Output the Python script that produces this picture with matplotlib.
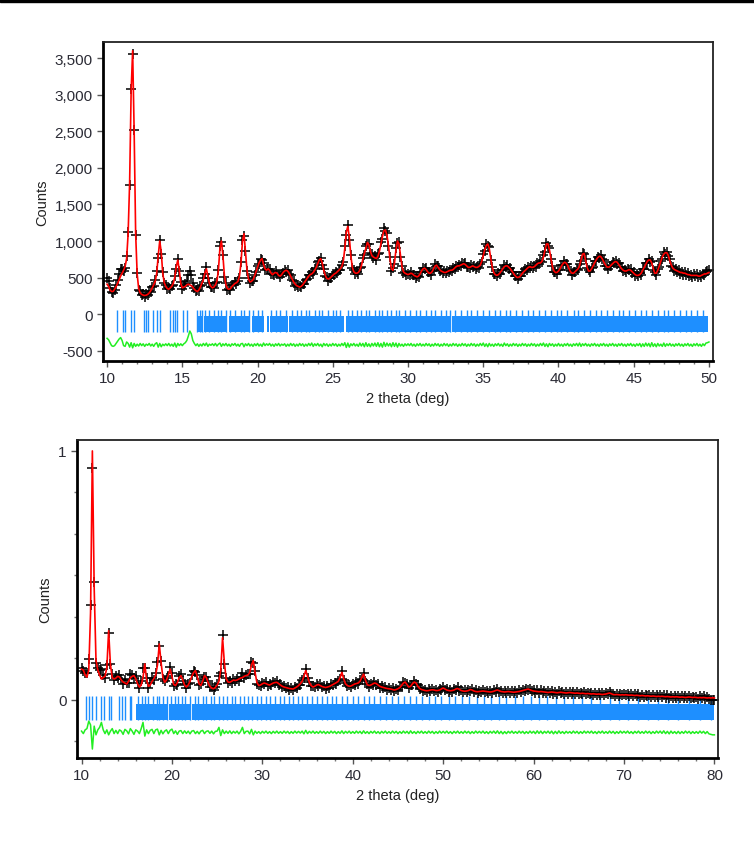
import numpy as np
import matplotlib
matplotlib.use("Agg")
import matplotlib.pyplot as plt
from matplotlib.ticker import MultipleLocator, FuncFormatter
from matplotlib.patches import Rectangle

plt.rcParams['font.family'] = ['Liberation Sans', 'DejaVu Sans']
plt.rcParams['axes.unicode_minus'] = False

# ---- top pattern: 2theta 10.0 .. 50.0, step 0.1 ----
calc_top = [
    410, 380, 330, 310, 310, 340, 380, 420, 470, 520,
    560, 600, 650, 760, 1100, 1800, 3050, 3600, 2500, 1100,
    550, 350, 290, 270, 260, 255, 260, 270, 290, 320,
    360, 400, 450, 560, 800, 1000, 850, 560, 430, 380,
    350, 340, 360, 380, 420, 500, 650, 740, 600, 420,
    360, 370, 380, 400, 410, 400, 390, 370, 340, 320,
    310, 330, 370, 420, 470, 560, 620, 520, 420, 380,
    360, 370, 400, 450, 600, 900, 1000, 800, 520, 400,
    350, 340, 350, 380, 400, 420, 430, 450, 520, 700,
    1000, 1100, 850, 600, 480, 440, 450, 470, 520, 580,
    640, 700, 740, 760, 680, 620, 600, 620, 600, 560,
    540, 560, 570, 560, 530, 520, 540, 570, 590, 600,
    590, 560, 520, 480, 440, 410, 390, 380, 370, 380,
    400, 430, 460, 490, 520, 540, 550, 570, 600, 640,
    690, 740, 760, 700, 600, 530, 490, 480, 490, 510,
    530, 550, 560, 580, 600, 620, 650, 720, 900, 1120,
    1200, 1050, 800, 640, 580, 560, 560, 570, 600, 660,
    750, 830, 900, 980, 950, 860, 800, 780, 770, 760,
    790, 860, 960, 1060, 1140, 1150, 1080, 940, 760, 620,
    600, 700, 880, 1000, 960, 800, 650, 580, 560, 550,
    540, 550, 560, 550, 530, 520, 510, 520, 550, 590,
    620, 630, 610, 580, 560, 560, 580, 620, 660, 670,
    640, 610, 590, 580, 570, 570, 580, 590, 600, 600,
    610, 630, 650, 660, 660, 670, 680, 690, 680, 660,
    640, 640, 650, 660, 650, 640, 640, 650, 670, 720,
    800, 880, 940, 960, 900, 760, 640, 570, 540, 530,
    540, 560, 590, 620, 650, 660, 660, 640, 620, 590,
    560, 530, 510, 500, 510, 530, 560, 580, 600, 620,
    640, 650, 640, 640, 650, 670, 690, 700, 700, 720,
    780, 870, 960, 960, 880, 760, 650, 590, 570, 570,
    590, 620, 660, 690, 710, 700, 670, 620, 580, 560,
    560, 580, 600, 620, 660, 740, 820, 830, 740, 640,
    590, 590, 620, 660, 700, 740, 770, 790, 790, 760,
    720, 680, 650, 640, 650, 670, 690, 710, 720, 710,
    680, 650, 620, 600, 590, 590, 600, 610, 600, 580,
    560, 540, 530, 530, 540, 560, 600, 640, 680, 720,
    740, 740, 700, 620, 560, 560, 600, 660, 720, 780,
    820, 840, 840, 800, 730, 670, 630, 610, 600, 590,
    580, 570, 570, 560, 560, 550, 540, 540, 530, 530,
    530, 530, 530, 520, 520, 530, 540, 550, 550, 560,
    570,
]
resid_top = [
    90, 70, 30, -10, -20, -10, 20, 50, 80, 100,
    60, -10, -20, 40, 20, -30, 30, -40, 20, -20,
    10, -15, 20, -10, 15, -20, 10, -5, 20, -15,
    10, -20, 15, 30, -30, 20, -25, 10, -10, 15,
    -10, 20, -15, 10, -20, 25, -30, 20, -10, 15,
    -10, 15, 30, 60, 120, 190, 150, 60, 20, -10,
    15, -20, 10, -15, 20, -10, 25, -20, 10, -5,
    15, -10, 20, -15, 10, 25, -20, 15, -10, 20,
    -15, 10, -20, 15, -5, 20, -15, 10, -20, 15,
    20, -25, 15, -10, 20, -15, 10, -20, 15, -10,
    20, -15, 10, -20, 25, -10, 15, -5, 20, -15,
    10, -20, 15, -10, 20, -15, 10, -5, 15, -20,
    10, -15, 20, -10, 15, -20, 10, -15, 20, -10,
    15, -20, 10, -15, 20, -10, 25, -20, 15, -10,
    20, -15, 10, -25, 20, -10, 15, -20, 10, -15,
    20, -10, 15, -20, 10, -15, 20, -10, 30, -35,
    25, -30, 15, -10, 20, -15, 10, -20, 25, -15,
    20, -25, 30, -20, 15, -25, 20, -15, 25, -20,
    30, -25, 20, -30, 35, -20, 25, -15, 20, -25,
    30, -20, 25, -30, 20, -15, 10, -20, 15, -10,
    15, -10, 20, -15, 10, -20, 15, -10, 20, -15,
    10, -15, 20, -10, 15, -20, 10, -15, 20, -10,
    15, -20, 10, -15, 20, -10, 15, -20, 10, -15,
    20, -10, 15, -20, 10, -15, 20, -10, 15, -20,
    10, -15, 20, -10, 15, -20, 10, -15, 20, -10,
    25, -20, 15, -25, 20, -15, 10, -20, 15, -10,
    20, -15, 10, -20, 25, -10, 15, -20, 10, -15,
    20, -10, 15, -20, 10, -15, 20, -10, 15, -20,
    10, -15, 20, -10, 15, -20, 10, -15, 20, -10,
    25, -20, 15, -25, 20, -10, 15, -20, 10, -15,
    20, -15, 10, -20, 15, -10, 20, -15, 10, -20,
    15, -10, 20, -15, 25, -20, 15, -10, 20, -15,
    10, -20, 15, -10, 20, -15, 10, -20, 15, -10,
    20, -15, 10, -20, 15, -10, 20, -15, 10, -20,
    15, -10, 20, -15, 10, -20, 15, -10, 20, -15,
    10, -20, 15, -10, 20, -25, 15, -20, 25, -15,
    20, -25, 30, -20, 15, -25, 20, -15, 10, -20,
    25, -20, 15, -10, 20, -15, 10, -20, 15, -10,
    20, -15, 10, -20, 15, -10, 20, -15, 10, -20,
    15, -10, 20, -15, 10, -20, 15, -10, 25, 30,
    40,
]
diff_offset_top = -420
refl_top = [10.64, 11.08, 11.2, 11.6, 11.8, 12.45, 12.6, 12.75, 13.05, 13.3,
            13.5, 14.2, 14.35, 14.5, 14.65, 15.05, 15.3, 15.95, 16.15, 16.3,
            16.5, 16.8, 17.1, 17.4, 17.55, 17.9, 18.2, 18.5, 18.9, 19.1,
            19.4, 19.7, 20.0, 20.3, 20.9, 21.2, 21.5, 21.9, 22.3, 22.6,
            22.9, 23.2, 23.4, 23.8, 24.1, 24.3, 24.7, 25.0, 25.2, 25.5,
            26.0, 26.3, 26.6, 26.9, 27.2, 27.4, 27.8, 28.1, 28.3, 28.6,
            28.9, 29.2, 29.4, 29.8, 30.1, 30.5, 30.8, 31.2, 31.5, 31.8,
            32.2, 32.5, 32.8, 33.1, 33.5, 33.9, 34.2, 34.6, 35.0, 35.4,
            35.8, 36.1, 36.5, 36.8, 37.2, 37.6, 38.0, 38.3, 38.7, 39.1,
            39.5, 39.9, 40.2, 40.6, 41.0, 41.3, 41.7, 42.1, 42.5, 42.8,
            43.2, 43.6, 44.0, 44.3, 44.7, 45.1, 45.5, 45.8, 46.2, 46.6,
            47.0, 47.3, 47.7, 48.1, 48.5, 48.8, 49.2, 49.6]
band_top = [(15.95, 16.35), (16.45, 18.0), (18.1, 19.45), (19.6, 20.45),
            (20.6, 20.75), (20.85, 22.0), (22.1, 25.75), (25.85, 32.85),
            (32.95, 49.95)]

# ---- bottom pattern: 2theta 10.0 .. 80.0, step 0.2, counts x1000 ----
calc_bot = [
    124, 120, 100, 92, 120, 350, 1000, 450, 160, 120,
    100, 84, 90, 95, 130, 278, 140, 90, 84, 88,
    95, 92, 80, 72, 68, 64, 75, 88, 95, 98,
    85, 65, 52, 60, 90, 145, 80, 55, 60, 75,
    85, 100, 140, 225, 150, 90, 71, 80, 100, 124,
    95, 62, 58, 70, 90, 98, 80, 60, 52, 60,
    75, 95, 110, 118, 95, 65, 58, 75, 98, 90,
    70, 55, 48, 45, 50, 60, 75, 120, 250, 150,
    85, 72, 71, 75, 80, 78, 80, 84, 88, 90,
    95, 98, 100, 110, 140, 158, 110, 70, 58, 60,
    65, 68, 66, 62, 60, 64, 68, 70, 71, 66,
    60, 55, 52, 50, 48, 46, 45, 44, 48, 52,
    58, 65, 75, 95, 118, 95, 70, 58, 52, 55,
    60, 62, 58, 54, 52, 50, 52, 54, 58, 62,
    66, 70, 75, 90, 111, 85, 65, 58, 55, 56,
    60, 64, 66, 68, 75, 90, 104, 80, 62, 58,
    60, 64, 68, 66, 60, 55, 52, 50, 48, 46,
    45, 44, 42, 40, 42, 45, 50, 58, 68, 72,
    62, 52, 55, 65, 72, 68, 55, 46, 42, 40,
    38, 37, 38, 40, 41, 40, 38, 38, 40, 44,
    48, 44, 40, 38, 37, 38, 40, 44, 46, 42,
    38, 36, 35, 36, 38, 42, 40, 36, 34, 33,
    34, 35, 36, 35, 34, 33, 32, 33, 35, 38,
    40, 37, 34, 33, 32, 33, 34, 33, 32, 31,
    32, 33, 34, 36, 38, 40, 42, 44, 41, 38,
    36, 35, 34, 33, 34, 33, 32, 31, 30, 31,
    32, 31, 30, 29, 30, 31, 30, 29, 28, 29,
    30, 29, 28, 27, 28, 27, 26, 27, 26, 25,
    26, 25, 24, 25, 24, 23, 24, 23, 22, 23,
    24, 26, 28, 25, 22, 21, 22, 21, 20, 21,
    20, 21, 20, 19, 20, 19, 18, 19, 18, 17,
    18, 17, 16, 17, 16, 15, 16, 15, 14, 15,
    14, 15, 14, 13, 14, 13, 12, 13, 12, 13,
    12, 11, 12, 11, 10, 11, 12, 11, 10, 11,
    10, 9, 10, 9, 10, 9, 8, 9, 8, 9,
    8,
]
resid_bot = [
    5, -5, 10, 15, 45, 30, -67, 25, -10, 10,
    20, 40, 10, -5, 10, -10, 5, 15, -5, 8,
    -5, 10, 5, -8, 12, 6, -6, 15, 5, -8,
    10, 5, -5, 15, 40, -15, 10, -5, 8, 12,
    -5, 10, 13, -10, 8, -6, 5, 10, -5, 8,
    13, -5, 6, -8, 5, 7, -5, 6, -4, 5,
    -6, 5, 7, -5, 4, -6, 5, 8, -5, 4,
    6, -4, 5, -6, 4, 5, 20, -13, 10, -5,
    5, -4, 6, -5, 4, -3, 5, -6, 4, 20,
    -5, 4, 5, -6, 12, -10, 5, -4, 3, -5,
    4, -3, 5, -4, 3, -5, 4, -3, 5, -4,
    3, -4, 5, -3, 4, -5, 3, -4, 5, -3,
    4, -3, 5, -6, 8, -5, 4, -3, 5, -4,
    3, -4, 5, -3, 4, -5, 3, -4, 5, -3,
    4, -5, 3, -4, 6, -5, 4, -3, 5, -4,
    3, -4, 5, -3, 4, -5, 6, -4, 3, -5,
    4, -3, 5, -4, 3, -5, 4, -3, 5, -4,
    3, -4, 5, -3, 4, -5, 3, -4, 5, -3,
    4, -5, 6, -4, 3, -5, 4, -3, 5, -4,
    3, -4, 5, -3, 4, -5, 3, -4, 5, -3,
    4, -3, 5, -4, 3, -5, 4, -3, 5, -4,
    3, -4, 5, -3, 4, -5, 3, -4, 5, -3,
    4, -3, 5, -4, 3, -5, 4, -3, 5, -4,
    6, -5, 4, -6, 3, -5, 4, -3, 5, -4,
    3, -4, 5, -3, 4, -5, 3, -4, 5, -3,
    4, -5, 6, -4, 5, -5, 4, -3, 5, -4,
    5, -6, 4, -5, 6, -4, 3, -5, 4, -3,
    3, -4, 5, -3, 4, -5, 3, -4, 5, -3,
    4, -3, 5, -4, 3, -5, 4, -3, 5, -4,
    3, -4, 5, -3, 4, -5, 3, -4, 5, -3,
    4, -3, 5, -4, 3, -5, 4, -3, 5, -4,
    3, -4, 5, -3, 4, -5, 3, -4, 5, -3,
    5, -4, 6, -5, 4, -6, 5, -4, 3, -5,
    4, -5, 3, -4, 5, -3, 4, -5, 3, -4,
    3, -4, 5, -3, 4, -5, 3, -6, -8, -10,
    -10,
]
diff_offset_bot = -130
refl_bot = [10.5, 10.85, 11.2, 11.65, 12.2, 12.45, 13.0, 13.3, 14.2, 14.5,
            14.8, 15.35, 15.5, 16.3, 16.7, 17.0, 17.4, 17.9, 18.3, 18.6,
            19.0, 19.4, 19.9, 20.3, 20.7, 21.1, 21.5, 22.0, 22.5, 22.9,
            23.4, 23.8, 24.3, 24.7, 25.2, 25.6, 26.1, 26.6, 27.0, 27.5,
            28.0, 28.4, 28.9, 29.4, 29.9, 30.4, 30.9, 31.4, 31.9, 32.4,
            32.9, 33.4, 33.9, 34.4, 34.9, 35.5, 36.0, 36.6, 37.1, 37.7,
            38.2, 38.8, 39.4, 40.0, 40.6, 41.2, 41.8, 42.4, 43.0, 43.7,
            44.3, 45.0, 45.7, 46.3, 47.0, 47.7, 48.4, 49.1, 49.8, 50.6,
            51.3, 52.1, 52.9, 53.7, 54.5, 55.3, 56.2, 57.0, 57.9, 58.8,
            59.7, 60.6, 61.5, 62.5, 63.4, 64.4, 65.4, 66.4, 67.4, 68.4,
            69.5, 70.5, 71.6, 72.7, 73.8, 74.9, 76.0, 77.2, 78.4, 79.6]
band_bot = [(16.0, 19.55), (19.7, 22.1), (22.25, 80.0)]

OBS = 'black'
CALC = '#ff0000'
DIFF = '#22ee22'
TICK = '#1e8fff'


def draw_pattern(ax, x, calc, resid, offset, refl, band, tick_lo, tick_hi, band_hi):
    calc = np.asarray(calc, float)
    resid = np.asarray(resid, float)
    ax.vlines(refl, tick_lo, tick_hi, color=TICK, lw=1)
    for a, b in band:
        ax.fill_between([a, b], tick_lo, band_hi, color=TICK, lw=0)
    ax.plot(x, offset + resid, color=DIFF, lw=1.1)
    ax.plot(x, calc + resid, ls='none', marker='+', ms=7, mew=1.1, color=OBS)
    ax.plot(x, calc, color=CALC, lw=1.2)


def style(ax):
    for s in ax.spines.values():
        s.set_linewidth(1.3)
        s.set_color('#222222')
    ax.spines['left'].set_linewidth(2)
    ax.spines['bottom'].set_linewidth(2)
    ax.spines['left'].set_color('black')
    ax.spines['bottom'].set_color('black')
    ax.tick_params(which='major', direction='out', length=4, width=1,
                   labelsize=11, labelcolor='#2b2b35', color='#555555')
    ax.tick_params(which='minor', direction='out', length=2.5, width=1,
                   color='#777777')
    ax.set_xlabel('2 theta (deg)', fontsize=10.5, color='#222222')
    ax.set_ylabel('Counts', fontsize=10.5, color='#222222')


fig = plt.figure(figsize=(7.54, 8.45), dpi=100)
fig.patches.append(Rectangle((0, 1 - 3 / 845), 1, 3 / 845, transform=fig.transFigure,
                             color='black', zorder=10))

# top panel
ax1 = fig.add_axes([103 / 754, 1 - 362 / 845, 610 / 754, 319 / 845])
x_top = 10 + 0.1 * np.arange(len(calc_top))
draw_pattern(ax1, x_top, calc_top, resid_top, diff_offset_top, refl_top, band_top,
             -240, 60, -30)
ax1.set_xlim(9.73, 50.27)
ax1.set_ylim(-640, 3720)
ax1.xaxis.set_major_locator(MultipleLocator(5))
ax1.xaxis.set_minor_locator(MultipleLocator(1))
ax1.yaxis.set_major_locator(MultipleLocator(500))
ax1.yaxis.set_major_formatter(FuncFormatter(lambda v, p: f'{int(v):,}'))
style(ax1)

# bottom panel
ax2 = fig.add_axes([77 / 754, 1 - 759 / 845, 641 / 754, 318 / 845])
x_bot = 10 + 0.2 * np.arange(len(calc_bot))
draw_pattern(ax2, x_bot, np.asarray(calc_bot) / 1000, np.asarray(resid_bot) / 1000,
             diff_offset_bot / 1000, refl_bot, band_bot, -0.08, 0.015, -0.015)
ax2.set_xlim(9.5, 80.4)
ax2.set_ylim(-0.233, 1.044)
ax2.xaxis.set_major_locator(MultipleLocator(10))
ax2.xaxis.set_minor_locator(MultipleLocator(2))
ax2.set_yticks([0, 1])
ax2.yaxis.set_minor_locator(MultipleLocator(1 / 6))
ax2.yaxis.set_major_formatter(FuncFormatter(lambda v, p: f'{v:g}'))
style(ax2)

fig.savefig('out.png', dpi=100)
